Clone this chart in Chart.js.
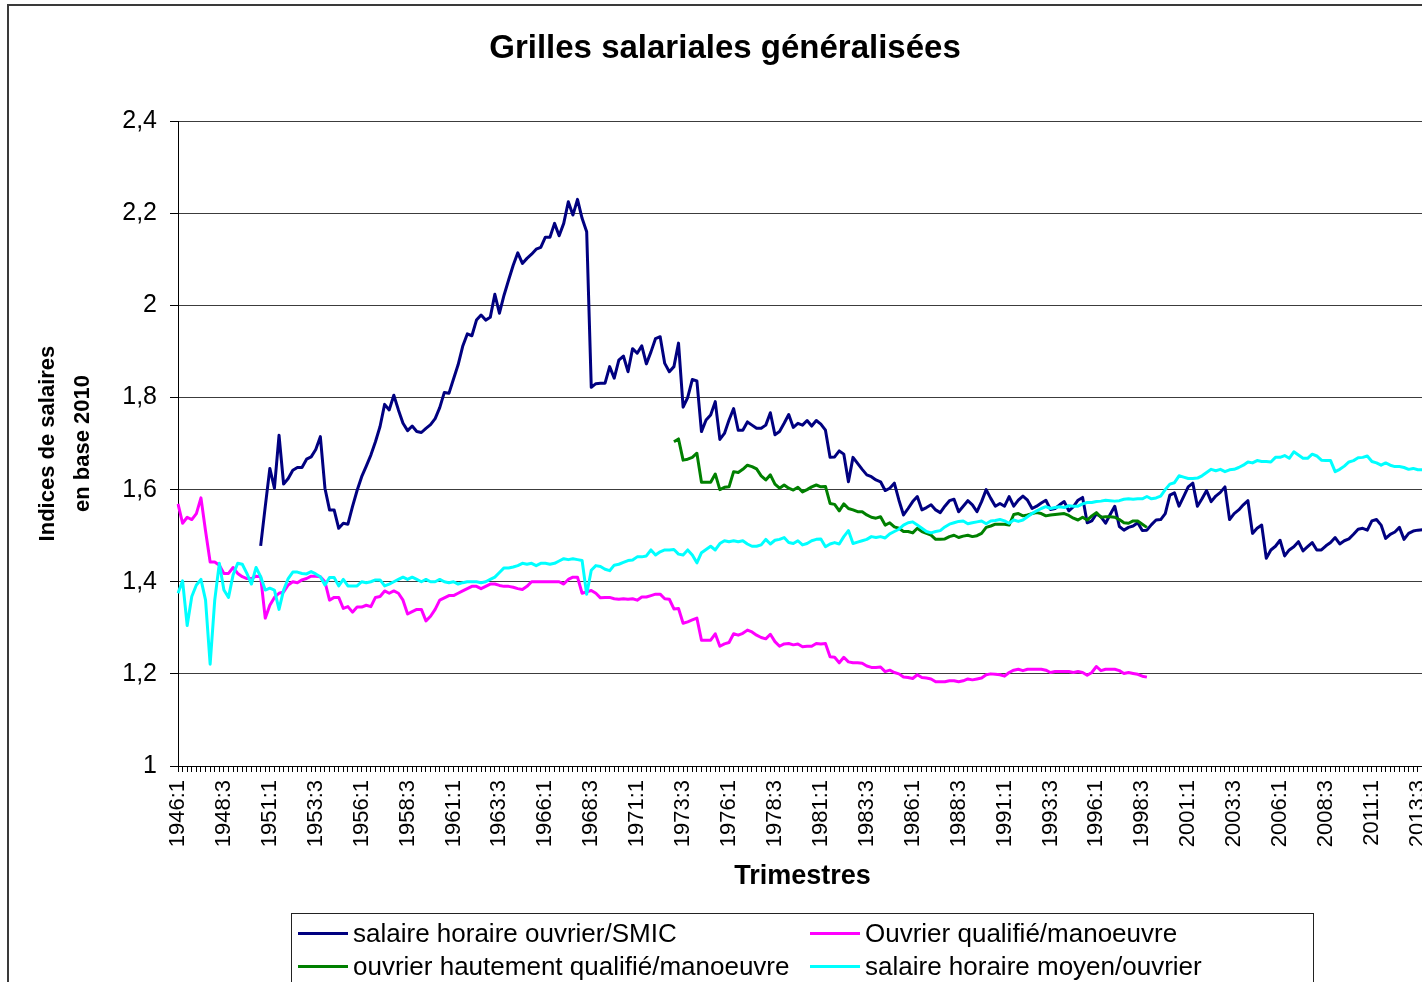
<!DOCTYPE html>
<html lang="fr">
<head>
<meta charset="utf-8">
<title>Grilles salariales généralisées</title>
<script src="https://cdn.jsdelivr.net/npm/chart.js@4.4.1/dist/chart.umd.min.js"></script>
<style>
  html, body { margin: 0; padding: 0; background: #fff; overflow: hidden; }
  #frame { position: absolute; left: 7px; top: 4px; width: 1500px; height: 1100px; border: 2px solid #3a3a3a; }
  #wrap { position: absolute; left: 10px; top: 7px; width: 1430px; height: 1000px; }
  #legend { position: absolute; left: 291px; top: 913px; width: 1021px; height: 120px; border: 1px solid #222;
            font-family: "Liberation Sans", Arial, sans-serif; font-size: 26px; color: #000; }
  .item { position: absolute; display: flex; align-items: center; height: 30px; white-space: nowrap; }
  .swatch { width: 50px; height: 3px; margin-right: 5px; }
</style>
</head>
<body>
<div id="frame"></div>
<div id="wrap"><canvas id="chart"></canvas></div>
<div id="legend"></div>
<script>
const FONT = '"Liberation Sans", Arial, sans-serif';

// trimestres 1946:1 .. 2014:1
const quarters = [];
for (let y = 1946; y <= 2014; y++) {
  for (let q = 1; q <= 4; q++) quarters.push(y + ':' + q);
}
quarters.length = 273;

const seriesNames = [
  'salaire horaire ouvrier/SMIC',
  'Ouvrier qualifié/manoeuvre',
  'ouvrier hautement qualifié/manoeuvre',
  'salaire horaire moyen/ouvrier'
];
const seriesColors = ['#000080', '#ff00ff', '#008000', '#00ffff'];

// salaire horaire ouvrier / SMIC, starts 1950:3
const smicStart = 18;
const smic = [
  1.478, 1.563,
  1.646, 1.603, 1.718, 1.612, 1.624, 1.642, 1.648, 1.648, 1.666, 1.671,
  1.687, 1.715, 1.603, 1.556, 1.556, 1.516, 1.527, 1.525, 1.563, 1.598,
  1.628, 1.651, 1.675, 1.704, 1.737, 1.785, 1.773, 1.805, 1.773, 1.744,
  1.728, 1.738, 1.726, 1.724, 1.733, 1.741, 1.754, 1.778, 1.811, 1.809,
  1.840, 1.871, 1.911, 1.938, 1.934, 1.968, 1.979, 1.968, 1.974, 2.024,
  1.983, 2.022, 2.055, 2.087, 2.114, 2.091, 2.102, 2.111, 2.122, 2.126,
  2.148, 2.148, 2.178, 2.151, 2.178, 2.225, 2.196, 2.230, 2.189, 2.160,
  1.822, 1.830, 1.831, 1.831, 1.867, 1.842, 1.881, 1.890, 1.856, 1.906,
  1.896, 1.912, 1.873, 1.899, 1.928, 1.932, 1.874, 1.856, 1.867, 1.918,
  1.779, 1.800, 1.839, 1.836, 1.726, 1.751, 1.762, 1.791, 1.709, 1.722,
  1.751, 1.776, 1.729, 1.729, 1.747, 1.740, 1.733, 1.733, 1.740, 1.767,
  1.719, 1.726, 1.744, 1.763, 1.735, 1.744, 1.740, 1.750, 1.738, 1.750,
  1.742, 1.729, 1.670, 1.671, 1.684, 1.677, 1.617, 1.670, 1.657, 1.644,
  1.632, 1.628, 1.621, 1.617, 1.598, 1.603, 1.614, 1.577, 1.545, 1.559,
  1.574, 1.585, 1.556, 1.561, 1.567, 1.556, 1.550, 1.564, 1.576, 1.579,
  1.552, 1.564, 1.576, 1.567, 1.552, 1.574, 1.600, 1.581, 1.564, 1.570,
  1.564, 1.585, 1.564, 1.577, 1.586, 1.577, 1.559, 1.564, 1.571, 1.577,
  1.557, 1.559, 1.567, 1.574, 1.554, 1.563, 1.577, 1.583, 1.528, 1.532,
  1.547, 1.541, 1.527, 1.546, 1.564, 1.520, 1.512, 1.518, 1.521, 1.528,
  1.511, 1.512, 1.524, 1.534, 1.535, 1.548, 1.588, 1.593, 1.564, 1.585,
  1.606, 1.614, 1.564, 1.580, 1.598, 1.574, 1.586, 1.594, 1.606, 1.535,
  1.548, 1.556, 1.567, 1.576, 1.505, 1.516, 1.523, 1.451, 1.469, 1.477,
  1.490, 1.456, 1.469, 1.476, 1.487, 1.467, 1.476, 1.485, 1.469, 1.469,
  1.478, 1.485, 1.496, 1.482, 1.489, 1.493, 1.503, 1.514, 1.516, 1.512,
  1.532, 1.535, 1.523, 1.494, 1.503, 1.508, 1.518, 1.492, 1.505, 1.510,
  1.512, 1.513, 1.514
];

// ouvrier qualifié / manoeuvre, 1946:1 .. 1998:4
const oq = [
  1.569, 1.527, 1.540, 1.535, 1.548, 1.582, 1.510, 1.443, 1.443, 1.436,
  1.418, 1.418, 1.431, 1.418, 1.411, 1.407, 1.407, 1.412, 1.411, 1.321,
  1.349, 1.366, 1.375, 1.378, 1.393, 1.400, 1.398, 1.404, 1.407, 1.412,
  1.412, 1.411, 1.400, 1.360, 1.366, 1.366, 1.342, 1.346, 1.334, 1.345,
  1.345, 1.349, 1.346, 1.366, 1.368, 1.380, 1.375, 1.380, 1.375, 1.360,
  1.330, 1.335, 1.340, 1.340, 1.315, 1.325, 1.340, 1.360, 1.365, 1.370,
  1.370, 1.375, 1.380, 1.385, 1.390, 1.390, 1.385, 1.390, 1.395, 1.395,
  1.392, 1.390, 1.390, 1.388, 1.385, 1.383, 1.390, 1.400, 1.400, 1.400,
  1.400, 1.400, 1.400, 1.400, 1.395, 1.405, 1.410, 1.410, 1.375, 1.378,
  1.381, 1.375, 1.365, 1.366, 1.366, 1.363, 1.362, 1.363, 1.362, 1.363,
  1.360, 1.367, 1.367, 1.370, 1.373, 1.373, 1.363, 1.362, 1.341, 1.342,
  1.310, 1.313, 1.317, 1.321, 1.273, 1.273, 1.273, 1.287, 1.260, 1.265,
  1.268, 1.287, 1.284, 1.288, 1.295, 1.291, 1.284, 1.279, 1.276, 1.286,
  1.270, 1.260, 1.265, 1.266, 1.263, 1.265, 1.259, 1.260, 1.260, 1.266,
  1.265, 1.266, 1.237, 1.236, 1.224, 1.236, 1.226, 1.224, 1.224, 1.223,
  1.217, 1.214, 1.214, 1.215, 1.205, 1.208, 1.203, 1.200, 1.193, 1.192,
  1.190, 1.198, 1.192, 1.191, 1.189, 1.183, 1.183, 1.183, 1.185, 1.185,
  1.183, 1.185, 1.189, 1.187, 1.189, 1.191, 1.198, 1.200, 1.199, 1.198,
  1.195, 1.203, 1.208, 1.210, 1.207, 1.210, 1.210, 1.210, 1.210, 1.208,
  1.203, 1.205, 1.205, 1.205, 1.205, 1.203, 1.205, 1.203, 1.197, 1.203,
  1.216, 1.207, 1.210, 1.210, 1.210, 1.207, 1.201, 1.203, 1.201, 1.199,
  1.195, 1.193
];

// ouvrier hautement qualifié / manoeuvre, 1973:1 .. 1998:4
const ohqStart = 108;
const ohq = [
  1.704, 1.710,
  1.664, 1.666, 1.670, 1.679, 1.616, 1.616, 1.616, 1.634, 1.600, 1.605,
  1.606, 1.639, 1.637, 1.644, 1.653, 1.650, 1.645, 1.630, 1.621, 1.632,
  1.612, 1.603, 1.610, 1.603, 1.599, 1.605, 1.595, 1.600, 1.606, 1.610,
  1.606, 1.607, 1.570, 1.568, 1.554, 1.569, 1.559, 1.556, 1.552, 1.552,
  1.545, 1.540, 1.538, 1.541, 1.523, 1.528, 1.519, 1.516, 1.509, 1.509,
  1.506, 1.516, 1.509, 1.505, 1.501, 1.492, 1.492, 1.493, 1.498, 1.501,
  1.496, 1.499, 1.501, 1.498, 1.500, 1.505, 1.518, 1.521, 1.525, 1.525,
  1.525, 1.523, 1.546, 1.548, 1.543, 1.545, 1.548, 1.550, 1.548, 1.543,
  1.545, 1.546, 1.547, 1.548, 1.544, 1.538, 1.534, 1.540, 1.534, 1.543,
  1.550, 1.540, 1.541, 1.541, 1.540, 1.535, 1.528, 1.527, 1.532, 1.532,
  1.525, 1.518
];

// salaire horaire moyen / ouvrier, 1946:1 .. 2014:1
const moyen = [
  1.375, 1.402, 1.305, 1.368, 1.393, 1.405, 1.360, 1.221, 1.360, 1.440,
  1.382, 1.366, 1.415, 1.440, 1.438, 1.418, 1.395, 1.431, 1.411, 1.382,
  1.386, 1.382, 1.340, 1.382, 1.407, 1.421, 1.421, 1.418, 1.417, 1.422,
  1.417, 1.411, 1.393, 1.409, 1.409, 1.391, 1.405, 1.391, 1.391, 1.391,
  1.400, 1.398, 1.400, 1.404, 1.404, 1.391, 1.395, 1.400, 1.405, 1.410,
  1.405, 1.410, 1.405, 1.400, 1.405, 1.400, 1.400, 1.405, 1.400, 1.398,
  1.400, 1.395, 1.398, 1.400, 1.400, 1.400, 1.398, 1.400, 1.405, 1.410,
  1.420, 1.430, 1.430, 1.432, 1.435, 1.440, 1.438, 1.440, 1.435, 1.440,
  1.440, 1.438, 1.440, 1.445, 1.450, 1.448, 1.450, 1.448, 1.446, 1.373,
  1.425, 1.435, 1.433, 1.427, 1.424, 1.436, 1.438, 1.442, 1.446, 1.447,
  1.454, 1.454, 1.456, 1.469, 1.458, 1.465, 1.469, 1.469, 1.470, 1.460,
  1.458, 1.469, 1.458, 1.441, 1.463, 1.470, 1.477, 1.469, 1.483, 1.489,
  1.487, 1.489, 1.487, 1.489, 1.482, 1.477, 1.477, 1.480, 1.492, 1.482,
  1.490, 1.492, 1.496, 1.485, 1.483, 1.489, 1.480, 1.483, 1.489, 1.492,
  1.493, 1.476, 1.482, 1.485, 1.482, 1.498, 1.511, 1.483, 1.486, 1.489,
  1.492, 1.498, 1.496, 1.498, 1.495, 1.504, 1.509, 1.514, 1.523, 1.528,
  1.530, 1.523, 1.516, 1.509, 1.506, 1.509, 1.511, 1.519, 1.525, 1.528,
  1.531, 1.532, 1.526, 1.528, 1.530, 1.532, 1.526, 1.532, 1.533, 1.535,
  1.532, 1.527, 1.534, 1.531, 1.534, 1.541, 1.548, 1.554, 1.559, 1.563,
  1.559, 1.561, 1.563, 1.561, 1.565, 1.564, 1.564, 1.569, 1.572, 1.572,
  1.574, 1.575, 1.577, 1.576, 1.575, 1.576, 1.579, 1.580, 1.579, 1.580,
  1.580, 1.585, 1.580, 1.582, 1.586, 1.600, 1.612, 1.615, 1.630, 1.627,
  1.624, 1.624, 1.625, 1.630, 1.637, 1.644, 1.641, 1.644, 1.639, 1.643,
  1.644, 1.648, 1.653, 1.660, 1.658, 1.663, 1.661, 1.661, 1.660, 1.670,
  1.670, 1.674, 1.668, 1.682, 1.675, 1.668, 1.668, 1.677, 1.673, 1.664,
  1.663, 1.663, 1.639, 1.644, 1.651, 1.660, 1.663, 1.669, 1.670, 1.673,
  1.661, 1.658, 1.653, 1.658, 1.653, 1.650, 1.650, 1.648, 1.644, 1.646,
  1.643, 1.643, 1.642
];

const yTicks = [1, 1.2, 1.4, 1.6, 1.8, 2, 2.2, 2.4];

const pad = (start, vals) => Array(start).fill(null).concat(vals);
const allSeries = [pad(smicStart, smic), oq, pad(ohqStart, ohq), moyen];

const datasets = allSeries.map((d, i) => ({
  label: seriesNames[i],
  data: d,
  borderColor: seriesColors[i],
  backgroundColor: seriesColors[i],
  borderWidth: 3,
  pointRadius: 0,
  tension: 0,
  fill: false,
  spanGaps: false,
  borderJoinStyle: 'round',
  order: 4 - i   // excel draws later series on top
}));

const chart = new Chart(document.getElementById('chart'), {
  type: 'line',
  data: { labels: quarters, datasets: datasets },
  options: {
    responsive: true,
    maintainAspectRatio: false,
    animation: false,
    layout: { padding: { left: 13, right: 13, top: 0, bottom: 111 } },
    plugins: {
      legend: { display: false },
      tooltip: { enabled: false },
      title: {
        display: true,
        text: 'Grilles salariales généralisées',
        color: '#000',
        font: { family: FONT, size: 33, weight: 'bold' },
        padding: { top: 22, bottom: 52.5 }
      }
    },
    scales: {
      x: {
        grid: { drawOnChartArea: false, drawTicks: true, tickLength: 6, color: '#000' },
        border: { color: '#000', width: 1 },
        ticks: {
          autoSkip: false, minRotation: 90, maxRotation: 90, padding: 8, color: '#000',
          font: { family: FONT, size: 22 },
          callback: (v, i) => (i % 10 === 0 ? quarters[i] : '')
        },
        title: {
          display: true, text: 'Trimestres', color: '#000',
          font: { family: FONT, size: 27, weight: 'bold' },
          padding: { top: 0, bottom: 3 }
        },
        afterFit: s => { s.height = 130; s.paddingLeft = 0; s.paddingRight = 0; }
      },
      y: {
        min: yTicks[0],
        max: yTicks[yTicks.length - 1],
        grid: { color: '#3c3c3c', lineWidth: 1, tickLength: 8, tickColor: '#000' },
        border: { color: '#000', width: 1 },
        afterBuildTicks: s => { s.ticks = yTicks.map(v => ({ value: v })); },
        ticks: {
          padding: 13, color: '#000',
          font: { family: FONT, size: 25 },
          callback: v => String(Math.round(v * 10) / 10).replace('.', ',')
        },
        title: {
          display: true, text: ['Indices de salaires', 'en base 2010'], color: '#000',
          font: { family: FONT, size: 22, weight: 'bold', lineHeight: 1.6 },
          padding: { top: 7, bottom: 0 }
        },
        afterFit: s => { s.width = 155; }
      }
    }
  }
});

// legend in two columns like the original
const legendPos = [[6, 4], [518, 4], [6, 37], [518, 37]];
const legend = document.getElementById('legend');
chart.data.datasets.forEach((ds, i) => {
  const item = document.createElement('div');
  item.className = 'item';
  item.style.left = legendPos[i][0] + 'px';
  item.style.top = legendPos[i][1] + 'px';
  item.innerHTML = `<span class="swatch" style="background:${ds.borderColor}"></span>${ds.label}`;
  legend.appendChild(item);
});
</script>
</body>
</html>
